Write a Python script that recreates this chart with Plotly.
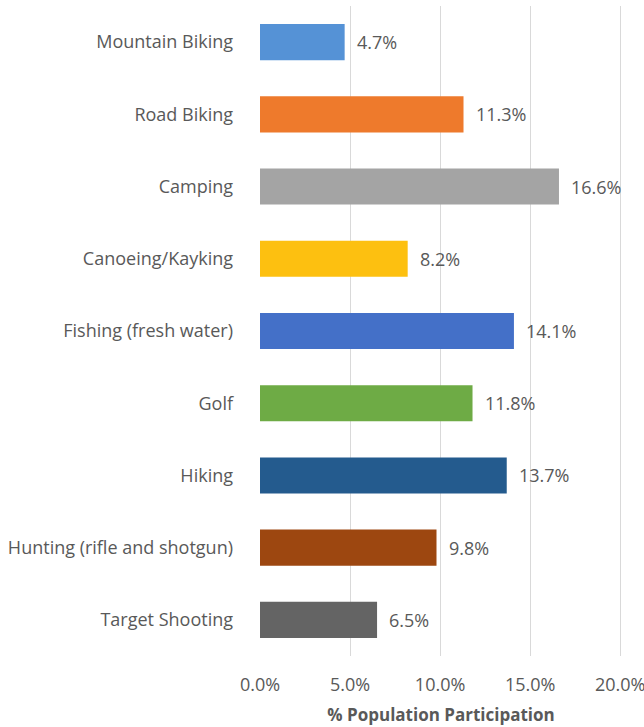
import plotly.graph_objects as go

# Outdoor recreation participation by activity
activities = [
    "Mountain Biking",
    "Road Biking",
    "Camping",
    "Canoeing/Kayking",
    "Fishing (fresh water)",
    "Golf",
    "Hiking",
    "Hunting (rifle and shotgun)",
    "Target Shooting",
]
participation = [4.7, 11.3, 16.6, 8.2, 14.1, 11.8, 13.7, 9.8, 6.5]
bar_colors = [
    "#5592D6", "#EE7A2C", "#A4A4A4", "#FDC010", "#4470C8",
    "#6EAB45", "#245B8E", "#9D4710", "#646464",
]
x_ticks = [0, 5, 10, 15, 20]
x_tick_labels = ["0.0%", "5.0%", "10.0%", "15.0%", "20.0%"]

text_color = "#595959"
font_family = "'Open Sans', Lato, sans-serif"
font_size = 18

fig = go.Figure()
fig.add_trace(
    go.Bar(
        x=participation,
        y=activities,
        orientation="h",
        marker=dict(color=bar_colors, line=dict(width=0)),
        hoverinfo="x+y",
    )
)

for name, val in zip(activities, participation):
    fig.add_annotation(
        x=val,
        y=name,
        text=f"{val:.1f}%",
        showarrow=False,
        xanchor="left",
        xshift=10,
        font=dict(family=font_family, size=font_size, color=text_color),
    )

fig.update_layout(
    width=644,
    height=727,
    margin=dict(l=260, r=22, t=6, b=71),
    paper_bgcolor="white",
    plot_bgcolor="white",
    bargap=0.5,
    showlegend=False,
    font=dict(family=font_family, size=font_size, color=text_color),
)
fig.update_xaxes(
    range=[0, 20.1],
    tickvals=x_ticks,
    ticktext=x_tick_labels,
    showgrid=True,
    gridcolor="#D9D9D9",
    gridwidth=1,
    zeroline=False,
    showline=False,
    ticks="",
    ticklabelstandoff=16,
    ticklabeloverflow="allow",
    automargin=False,
    tickfont=dict(size=font_size, color=text_color),
    title=dict(
        text="<b>% Population Participation</b>",
        font=dict(size=17, color=text_color),
        standoff=14,
    ),
    fixedrange=True,
)
fig.update_yaxes(
    categoryorder="array",
    categoryarray=activities[::-1],
    showgrid=False,
    zeroline=False,
    showline=False,
    ticks="",
    ticklabelstandoff=26,
    automargin=False,
    tickfont=dict(size=font_size, color=text_color),
    fixedrange=True,
)

fig.write_html("out.html")
